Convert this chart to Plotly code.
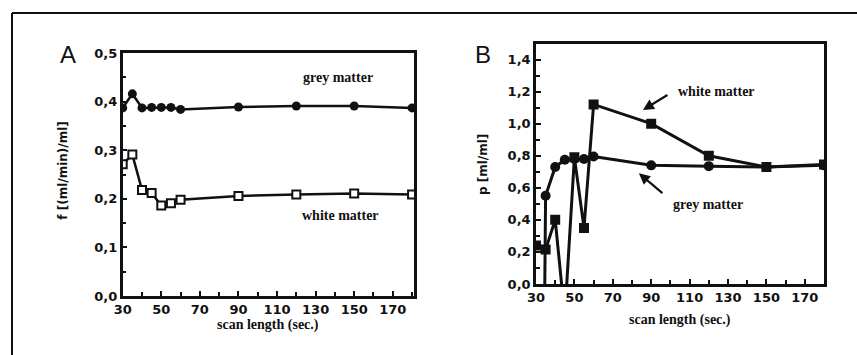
import plotly.graph_objects as go

# scan lengths (s)
scan_len = [30, 35, 40, 45, 50, 55, 60, 90, 120, 150, 180]

# Panel A: flow f [(ml/min)/ml]
f_grey = [0.387, 0.416, 0.387, 0.388, 0.388, 0.388, 0.384, 0.389, 0.391, 0.391, 0.387]
f_white = [0.271, 0.291, 0.218, 0.212, 0.186, 0.191, 0.198, 0.206, 0.209, 0.211, 0.209]

# Panel B: partition coefficient p [ml/ml]
p_grey = [-6.0, 0.55, 0.73, 0.775, 0.78, 0.78, 0.795, 0.74, 0.735, 0.73, 0.74]
p_white = [0.24, 0.215, 0.40, -0.2, 0.79, 0.35, 1.12, 1.0, 0.80, 0.73, 0.745]

x_ticks = [30, 50, 70, 90, 110, 130, 150, 170]
f_ticks = [0.0, 0.1, 0.2, 0.3, 0.4, 0.5]
p_ticks = [0.0, 0.2, 0.4, 0.6, 0.8, 1.0, 1.2, 1.4]

W, H = 857, 355
BLACK = "#111111"
tick_font = dict(family="DejaVu Sans", size=13, color=BLACK, weight="bold")
serif = dict(family="Liberation Serif", size=14, color=BLACK, weight="bold")
sans_title = dict(family="DejaVu Sans", size=12, color=BLACK, weight="bold")

fig = go.Figure()

line_a = dict(color=BLACK, width=2.5)
line_b = dict(color=BLACK, width=3)

fig.add_trace(go.Scatter(x=scan_len, y=f_grey, mode="lines+markers", line=line_a,
                         marker=dict(symbol="circle", size=9, color=BLACK),
                         xaxis="x", yaxis="y", showlegend=False))
fig.add_trace(go.Scatter(x=scan_len, y=f_white, mode="lines+markers", line=line_a,
                         marker=dict(symbol="square", size=8, color="white",
                                     line=dict(color=BLACK, width=2)),
                         xaxis="x", yaxis="y", showlegend=False))
fig.add_trace(go.Scatter(x=scan_len, y=p_grey, mode="lines+markers", line=line_b,
                         marker=dict(symbol="circle", size=10, color=BLACK),
                         xaxis="x2", yaxis="y2", showlegend=False, cliponaxis=True))
fig.add_trace(go.Scatter(x=scan_len, y=p_white, mode="lines+markers", line=line_b,
                         marker=dict(symbol="square", size=10, color=BLACK),
                         xaxis="x2", yaxis="y2", showlegend=False, cliponaxis=True))


def px(v):
    return v / W


def py(v):
    return 1 - v / H


axis_common = dict(showline=True, linecolor=BLACK, linewidth=2.5, mirror=True,
                   ticks="inside", ticklen=5, tickwidth=2, tickcolor=BLACK,
                   showgrid=False, zeroline=False, tickfont=tick_font,
                   automargin=False)

fig.update_layout(
    width=W, height=H, margin=dict(l=0, r=0, t=0, b=0),
    paper_bgcolor="white", plot_bgcolor="white",
    separators=",.",
    xaxis=dict(domain=[px(122.7), px(414)], range=[30, 181], anchor="y",
               tickvals=x_ticks,
               minor=dict(dtick=10, tick0=30, ticks="inside", ticklen=4,
                          tickwidth=2, tickcolor=BLACK),
               **axis_common),
    yaxis=dict(domain=[py(296), py(53)], range=[0, 0.5], anchor="x",
               tickvals=f_ticks, tickformat=".1f",
               minor=dict(dtick=0.05, ticks="inside", ticklen=4,
                          tickwidth=2, tickcolor=BLACK),
               **axis_common),
    xaxis2=dict(domain=[px(536), px(824)], range=[30, 180], anchor="y2",
                tickvals=x_ticks,
                minor=dict(dtick=10, tick0=30, ticks="inside", ticklen=4,
                           tickwidth=2, tickcolor=BLACK),
                **axis_common),
    yaxis2=dict(domain=[py(284), py(43.5)], range=[0, 1.5], anchor="x2",
                tickvals=p_ticks, tickformat=".1f",
                minor=dict(dtick=0.1, ticks="inside", ticklen=4,
                           tickwidth=2, tickcolor=BLACK),
                **axis_common),
)


def paper_text(text, x, y, font, angle=0):
    return dict(text=text, x=px(x), y=py(y), xref="paper", yref="paper",
                xanchor="center", yanchor="middle", textangle=angle,
                showarrow=False, font=font)


letter_font = dict(family="Liberation Sans", size=24, color=BLACK)

annotations = [
    # panel letters
    paper_text("A", 68, 54, letter_font),
    paper_text("B", 483, 54, letter_font),
    # axis titles
    paper_text("f [(ml/min)/ml]", 62.7, 170, sans_title, -90),
    paper_text("p [ml/ml]", 483, 165, sans_title, -90),
    paper_text("scan length (sec.)", 268, 325, serif),
    paper_text("scan length (sec.)", 680, 320, serif),
    # series labels, panel A
    dict(text="grey matter", x=141.6, y=0.45, xref="x", yref="y",
         xanchor="center", yanchor="middle", showarrow=False, font=serif),
    dict(text="white matter", x=143, y=0.165, xref="x", yref="y",
         xanchor="center", yanchor="middle", showarrow=False, font=serif),
    # series labels, panel B
    dict(text="white matter", x=124, y=1.2, xref="x2", yref="y2",
         xanchor="center", yanchor="middle", showarrow=False, font=serif),
    dict(text="grey matter", x=119.6, y=0.493, xref="x2", yref="y2",
         xanchor="center", yanchor="middle", showarrow=False, font=serif),
    # arrows, panel B
    dict(text="", x=85.7, y=1.085, xref="x2", yref="y2", showarrow=True,
         ax=26, ay=-16, arrowhead=2, arrowsize=1, arrowwidth=2.2, arrowcolor=BLACK),
    dict(text="", x=83.6, y=0.69, xref="x2", yref="y2", showarrow=True,
         ax=25, ay=21, arrowhead=2, arrowsize=1, arrowwidth=2.2, arrowcolor=BLACK),
]
fig.update_layout(annotations=annotations)

# outer frame of the figure
fig.add_shape(type="line", xref="paper", yref="paper",
              x0=px(12), y0=-0.02, x1=px(12), y1=py(13),
              line=dict(color=BLACK, width=2))
fig.add_shape(type="line", xref="paper", yref="paper",
              x0=px(12), y0=py(13), x1=1.02, y1=py(13),
              line=dict(color=BLACK, width=2))

fig.write_html("out.html")
